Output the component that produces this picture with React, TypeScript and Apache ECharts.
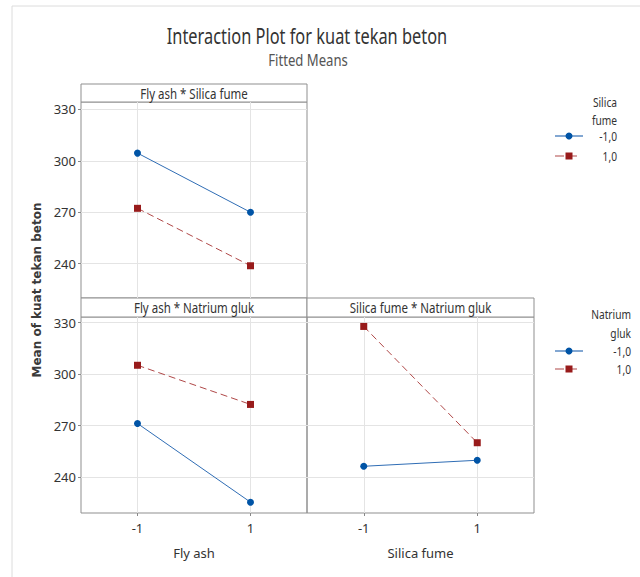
import React, { useEffect, useRef } from "react";
import * as echarts from "echarts";

// ---- data ----
const xLevels = [-1, 1];
const xTickValues = [-1, 1];
const yTickValues = [240, 270, 300, 330];
const legendLabels = ["-1,0", "1,0"];

const panelTitles = ["Fly ash * Silica fume", "Fly ash * Natrium gluk", "Silica fume * Natrium gluk"];
const xAxisNames = ["", "Fly ash", "Silica fume"];

// Fly ash * Silica fume (series = Silica fume level)
const flyAshSilica_low = [304.5, 270.0];
const flyAshSilica_high = [272.3, 238.8];
// Fly ash * Natrium gluk (series = Natrium gluk level)
const flyAshNatrium_low = [271.3, 225.5];
const flyAshNatrium_high = [305.2, 282.4];
// Silica fume * Natrium gluk (series = Natrium gluk level)
const silicaNatrium_low = [246.4, 249.9];
const silicaNatrium_high = [327.8, 260.1];

const titleText = "Interaction Plot for kuat tekan beton";
const subtitleText = "Fitted Means";
const yAxisTitle = "Mean of kuat tekan beton";
const legendTitles = [["Silica", "fume"], ["Natrium", "gluk"]];

const BLUE = "#0054a6";
const BLUE_LINE = "#2f6db5";
const RED = "#981b1b";
const RED_LINE = "#b04848";
const FONT = "'Noto Sans', sans-serif";

function txt(text: string, x: number, y: number, size: number, opts: any = {}) {
  return {
    type: "text",
    x,
    y,
    scaleX: opts.sx ?? 1,
    rotation: opts.rot ?? 0,
    silent: true,
    style: {
      text,
      fill: opts.color ?? "#333",
      font: `${opts.weight ?? "normal"} ${size}px ${opts.family ?? FONT}`,
      align: opts.align ?? "center",
      textAlign: opts.align ?? "center",
      verticalAlign: "middle",
      textVerticalAlign: "middle",
    },
  };
}

export default function App() {
  const ref = useRef<HTMLDivElement>(null);

  useEffect(() => {
    if (!ref.current) return;
    const chart = echarts.init(ref.current, null, { renderer: "svg" });

    const grids = [
      { left: 81, top: 102, width: 226, height: 196 },
      { left: 81, top: 317, width: 226, height: 196 },
      { left: 307, top: 317, width: 227, height: 196 },
    ];
    const yRanges = [
      [220, 334.3],
      [219.2, 333.3],
      [219.2, 333.3],
    ];
    const headers = [
      { x: 81, y: 84, w: 226, h: 18 },
      { x: 81, y: 298, w: 226, h: 19 },
      { x: 307, y: 298, w: 227, h: 19 },
    ];
    const panelData = [
      [flyAshSilica_low, flyAshSilica_high],
      [flyAshNatrium_low, flyAshNatrium_high],
      [silicaNatrium_low, silicaNatrium_high],
    ];

    const xAxes = grids.map((_, i) => ({
      type: "value",
      gridIndex: i,
      position: "bottom",
      min: -2,
      max: 2,
      name: xAxisNames[i],
      nameLocation: "middle",
      nameGap: 33,
      nameTextStyle: { fontFamily: FONT, fontSize: 13, color: "#333" },
      axisLine: { show: false, onZero: false },
      axisTick: { show: i > 0, length: 3, lineStyle: { color: "#888" }, customValues: xTickValues },
      axisLabel: {
        show: i > 0,
        customValues: xTickValues,
        fontFamily: FONT,
        fontSize: 13,
        color: "#333",
        margin: 8,
        formatter: (v: number) => String(v),
      },
      splitLine: { show: true, lineStyle: { color: "#e4e4e4" } },
    }));

    const yAxes = grids.map((_, i) => ({
      type: "value",
      gridIndex: i,
      position: "left",
      min: yRanges[i][0],
      max: yRanges[i][1],
      axisLine: { show: false, onZero: false },
      axisTick: { show: i < 2, length: 3, lineStyle: { color: "#888" }, customValues: yTickValues },
      axisLabel: {
        show: i < 2,
        customValues: yTickValues,
        fontFamily: FONT,
        fontSize: 13,
        color: "#333",
        margin: 5,
      },
      splitLine: { show: true, lineStyle: { color: "#e4e4e4" } },
    }));

    const series: any[] = [];
    panelData.forEach((pair, i) => {
      pair.forEach((vals, k) => {
        series.push({
          type: "line",
          name: legendLabels[k],
          xAxisIndex: i,
          yAxisIndex: i,
          data: xLevels.map((x, j) => [x, vals[j]]),
          symbol: k === 0 ? "circle" : "rect",
          symbolSize: 7,
          itemStyle: { color: k === 0 ? BLUE : RED },
          lineStyle: {
            color: k === 0 ? BLUE_LINE : RED_LINE,
            width: 1,
            type: k === 0 ? "solid" : [7, 4],
          },
          z: k === 0 ? 3 : 2,
        });
      });
    });

    const graphics: any[] = [];
    // outer frame
    graphics.push({
      type: "rect",
      silent: true,
      shape: { x: 12, y: 6, width: 700, height: 700 },
      style: { fill: "none", stroke: "#dcdcdc", lineWidth: 1 },
    });
    // titles
    graphics.push(txt(titleText, 307, 36, 21, { sx: 0.78, color: "#333" }));
    graphics.push(txt(subtitleText, 308, 59, 16, { sx: 0.82, color: "#555" }));
    // y axis title
    graphics.push(
      txt(yAxisTitle, 37, 290, 12, {
        rot: Math.PI / 2,
        family: "'DejaVu Sans', sans-serif",
        weight: "bold",
        color: "#3a3a3a",
      })
    );
    // panel headers
    headers.forEach((h, i) => {
      graphics.push({
        type: "rect",
        silent: true,
        shape: { x: h.x, y: h.y, width: h.w, height: h.h },
        style: { fill: "#fff", stroke: "#8f8f8f", lineWidth: 1 },
      });
      graphics.push(txt(panelTitles[i], h.x + h.w / 2, h.y + h.h / 2 + 0.5, 14, { sx: 0.82 }));
    });
    // legends
    const legendPos = [
      { right: 617, titleY: [102, 120], rowY: [136, 156] },
      { right: 631, titleY: [314, 333], rowY: [351, 369] },
    ];
    legendPos.forEach((lp, li) => {
      legendTitles[li].forEach((t, ti) => {
        graphics.push(txt(t, lp.right, lp.titleY[ti], 12, { sx: 0.85, align: "right" }));
      });
      legendLabels.forEach((lab, k) => {
        const y = lp.rowY[k];
        graphics.push({
          type: "line",
          silent: true,
          shape: { x1: 555, y1: y, x2: k === 0 ? 583 : 578, y2: y },
          style: {
            stroke: k === 0 ? BLUE_LINE : RED_LINE,
            lineWidth: 1.2,
            lineDash: k === 0 ? null : [9, 4],
          },
        });
        if (k === 0) {
          graphics.push({ type: "circle", silent: true, shape: { cx: 569, cy: y, r: 3.5 }, style: { fill: BLUE } });
        } else {
          graphics.push({ type: "rect", silent: true, shape: { x: 565.5, y: y - 3.5, width: 7, height: 7 }, style: { fill: RED } });
        }
        graphics.push(txt(lab, lp.right, y + 0.5, 12, { sx: 0.85, align: "right" }));
      });
    });

    chart.setOption({
      animation: false,
      backgroundColor: "#fff",
      grid: grids.map((g) => ({ ...g, show: true, borderColor: "#8f8f8f", borderWidth: 1, containLabel: false })),
      xAxis: xAxes,
      yAxis: yAxes,
      series,
      graphic: { elements: graphics },
    });

    return () => chart.dispose();
  }, []);

  return (
    <div
      ref={ref}
      style={{ position: "fixed", left: 0, top: 0, width: 640, height: 577, background: "#fff" }}
    />
  );
}
